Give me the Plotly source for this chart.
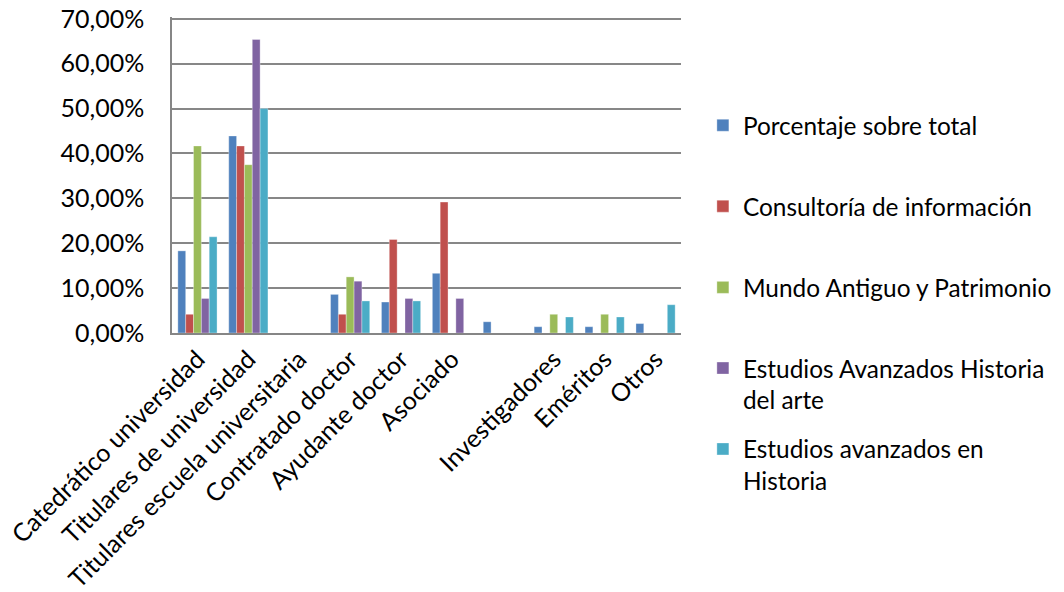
import plotly.graph_objects as go

categories = ["Catedrático universidad", "Titulares de universidad",
              "Titulares escuela universitaria", "Contratado doctor",
              "Ayudante doctor", "Asociado", " ", "Investigadores",
              "Eméritos", "Otros"]

series_names = ["Porcentaje sobre total", "Consultoría de información",
                "Mundo Antiguo y Patrimonio",
                "Estudios Avanzados Historia<br>del arte",
                "Estudios avanzados en<br>Historia"]

# values in percent
porcentaje_total = [18.3, 43.9, 0, 8.6, 6.9, 13.3, 2.5, 1.4, 1.4, 2.1]
consultoria = [4.17, 41.67, 0, 4.17, 20.83, 29.17, 0, 0, 0, 0]
mundo_antiguo = [41.67, 37.5, 0, 12.5, 0, 0, 0, 4.17, 4.17, 0]
historia_arte = [7.69, 65.38, 0, 11.54, 7.69, 7.69, 0, 0, 0, 0]
historia = [21.43, 50.0, 0, 7.14, 7.14, 0, 0, 3.57, 3.57, 6.3]

y_ticks = [0, 10, 20, 30, 40, 50, 60, 70]

values = [porcentaje_total, consultoria, mundo_antiguo, historia_arte, historia]
colors = ["#4F81BD", "#C0504D", "#9BBB59", "#8064A2", "#4BACC6"]
legend_ids = ["legend", "legend2", "legend3", "legend4", "legend5"]
legend_y = [0.657, 0.401, 0.144, -0.162, -0.418]

FONT = "Lato"
FS = 25
LFS = 24.4
fig = go.Figure()
for name, vals, col, lid in zip(series_names, values, colors, legend_ids):
    fig.add_trace(go.Bar(
        x=categories, y=[v / 100 for v in vals], name=name, legend=lid,
        marker=dict(color=col, line=dict(width=0.6, color="rgba(255,255,255,0.55)")),
    ))

layout_legends = {}
for lid, ly in zip(legend_ids, legend_y):
    layout_legends[lid] = dict(
        x=1.043, y=ly, xanchor="left", yanchor="middle",
        xref="paper", yref="paper",
        font=dict(family=FONT, size=LFS, color="#000000"),
        bgcolor="rgba(0,0,0,0)", borderwidth=0,
        valign="top", itemclick=False, itemdoubleclick=False,
    )

fig.update_layout(
    width=1064, height=592,
    margin=dict(l=172, r=383, t=17.2, b=259, autoexpand=False),
    paper_bgcolor="white", plot_bgcolor="white",
    barmode="group", bargap=0.23, bargroupgap=0,
    separators=",.",
    font=dict(family=FONT, size=FS, color="#000000"),
    showlegend=True,
    **layout_legends,
)

fig.update_xaxes(
    type="category", categoryorder="array", categoryarray=categories,
    tickangle=-45, showgrid=False, showline=True, linecolor="#868686",
    linewidth=1.5, ticks="", tickfont=dict(family=FONT, size=FS, color="#000000"),
    range=[-0.5, len(categories) - 0.5],
)
fig.update_yaxes(
    range=[0, 0.704], tickvals=[t / 100 for t in y_ticks], tickformat=".2%",
    showgrid=True, gridcolor="#878787", gridwidth=1.5,
    showline=True, linecolor="#868686", linewidth=1.5, ticks="",
    ticklabelstandoff=21, zeroline=False, ticklabeloverflow="allow",
    tickfont=dict(family=FONT, size=FS, color="#000000"),
)

fig.write_html("out.html", config={"displayModeBar": False},
               post_script="document.body.style.margin='0px';")
